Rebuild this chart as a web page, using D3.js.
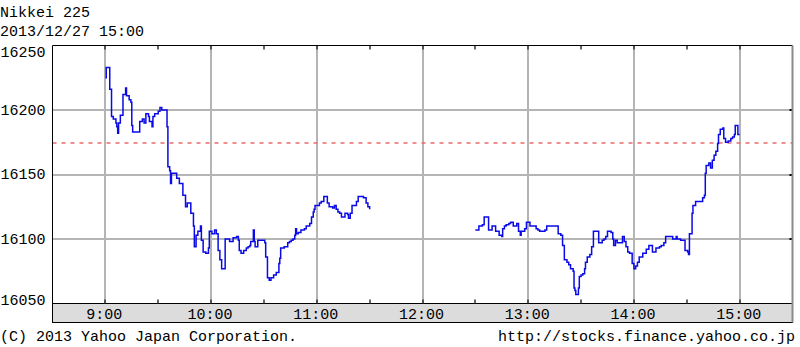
<!DOCTYPE html>
<html>
<head>
<meta charset="utf-8">
<script src="https://cdn.jsdelivr.net/npm/d3@7"></script>
<style>
  body { margin: 0; background: #fff; }
  svg text { font-family: "Liberation Mono", "DejaVu Sans Mono", monospace; font-size: 15px; fill: #000; }
</style>
</head>
<body>
<div id="chart"></div>
<script>
const title = "Nikkei 225";
const stamp = "2013/12/27 15:00";
const copyright = "(C) 2013 Yahoo Japan Corporation.";
const source = "http://stocks.finance.yahoo.co.jp";
const prevClose = 16174.44;
const yTicks = [16050, 16100, 16150, 16200, 16250];
const hourTicks = ["09:00", "10:00", "11:00", "12:00", "13:00", "14:00", "15:00"];
const halfTicks = ["09:30", "10:30", "11:30", "12:30", "13:30", "14:30"];

// morning session
const amTimes = [
  "09:00:00", "09:00:30", "09:02:30", "09:03:30", "09:04:30", "09:06:00", "09:06:30", "09:07:00",
  "09:07:30", "09:08:30", "09:10:00", "09:11:30", "09:12:00", "09:13:30", "09:14:30", "09:15:00",
  "09:15:30", "09:19:30", "09:21:00", "09:22:00", "09:23:00", "09:24:30", "09:25:00", "09:26:30",
  "09:27:00", "09:28:00", "09:30:00", "09:31:00", "09:32:00", "09:35:00", "09:35:30", "09:36:30",
  "09:37:00", "09:37:30", "09:40:30", "09:42:00", "09:44:00", "09:45:30", "09:46:30", "09:48:30",
  "09:50:00", "09:50:30", "09:51:30", "09:52:30", "09:54:00", "09:54:30", "09:55:30", "09:57:00",
  "09:58:30", "09:59:00", "10:00:30", "10:02:00", "10:03:00", "10:04:00", "10:05:00", "10:06:00",
  "10:08:00", "10:10:30", "10:12:30", "10:14:30", "10:15:30", "10:16:00", "10:17:00", "10:18:30",
  "10:20:00", "10:21:00", "10:22:00", "10:22:30", "10:24:00", "10:24:30", "10:25:00", "10:26:30",
  "10:30:30", "10:31:00", "10:32:00", "10:33:00", "10:34:00", "10:35:30", "10:37:00", "10:38:30",
  "10:39:00", "10:39:30", "10:41:30", "10:43:30", "10:44:30", "10:45:30", "10:46:30", "10:47:30",
  "10:48:00", "10:48:30", "10:49:30", "10:51:00", "10:53:00", "10:54:00", "10:56:00", "10:57:00",
  "10:58:00", "10:58:30", "10:59:00", "11:01:30", "11:02:30", "11:04:00", "11:06:00", "11:07:00",
  "11:09:00", "11:10:00", "11:11:00", "11:12:00", "11:13:00", "11:14:00", "11:16:00", "11:17:30",
  "11:18:00", "11:19:00", "11:20:00", "11:22:30", "11:23:30", "11:26:30", "11:28:00", "11:29:00",
  "11:30:00"
];
const amValues = [
  16225, 16233, 16216, 16195, 16193, 16190, 16187, 16182,
  16190, 16196, 16212, 16217, 16211, 16208, 16206, 16188,
  16183, 16191, 16193, 16190, 16197, 16195, 16191, 16187,
  16195, 16197, 16199, 16202, 16200, 16187, 16156, 16153,
  16143, 16151, 16147, 16143, 16134, 16125, 16128, 16120,
  16110, 16094, 16103, 16106, 16110, 16099, 16090, 16089,
  16093, 16106, 16104, 16107, 16104, 16091, 16084, 16077,
  16100, 16098, 16101, 16102, 16099, 16091, 16089, 16091,
  16093, 16094, 16095, 16098, 16107, 16098, 16094, 16099,
  16097, 16086, 16070, 16068, 16070, 16072, 16074, 16081,
  16085, 16093, 16094, 16097, 16098, 16099, 16100, 16103,
  16108, 16104, 16105, 16107, 16108, 16110, 16112, 16117,
  16121, 16123, 16126, 16128, 16129, 16133, 16128, 16125,
  16124, 16126, 16123, 16121, 16120, 16117, 16120, 16119,
  16116, 16120, 16126, 16129, 16133, 16132, 16128, 16125,
  16123
];

// afternoon session
const pmTimes = [
  "12:30:00", "12:32:00", "12:34:00", "12:35:00", "12:37:30", "12:39:30", "12:41:30", "12:43:30",
  "12:45:00", "12:45:30", "12:46:30", "12:47:30", "12:49:00", "12:50:00", "12:51:30", "12:53:30",
  "12:54:30", "12:55:30", "12:56:00", "12:58:00", "12:59:00", "13:01:00", "13:04:30", "13:05:30",
  "13:06:30", "13:09:30", "13:10:30", "13:17:00", "13:18:30", "13:19:30", "13:20:30", "13:22:00",
  "13:23:00", "13:24:00", "13:25:30", "13:26:00", "13:26:30", "13:27:00", "13:28:30", "13:29:00",
  "13:30:00", "13:31:00", "13:32:00", "13:32:30", "13:33:30", "13:35:00", "13:36:00", "13:37:00",
  "13:40:00", "13:42:00", "13:43:00", "13:44:00", "13:45:00", "13:47:00", "13:48:00", "13:48:30",
  "13:49:30", "13:50:30", "13:53:30", "13:54:30", "13:55:30", "13:56:30", "13:57:30", "13:59:00",
  "14:00:00", "14:01:00", "14:02:00", "14:03:00", "14:05:00", "14:07:00", "14:08:30", "14:10:30",
  "14:12:30", "14:14:30", "14:15:30", "14:17:00", "14:18:00", "14:22:00", "14:24:00", "14:24:30",
  "14:26:30", "14:29:00", "14:30:30", "14:31:00", "14:31:30", "14:33:00", "14:33:30", "14:35:00",
  "14:39:00", "14:40:00", "14:40:30", "14:41:00", "14:42:30", "14:43:30", "14:44:30", "14:45:30",
  "14:46:30", "14:47:30", "14:48:00", "14:49:00", "14:50:30", "14:51:00", "14:52:00", "14:53:30",
  "14:55:00", "14:56:00", "14:57:00", "14:57:30", "14:59:00", "15:00:00"
];
const pmValues = [
  16107, 16110, 16111, 16117, 16107, 16110, 16106, 16103,
  16102, 16108, 16110, 16111, 16112, 16113, 16110, 16112,
  16106, 16103, 16106, 16108, 16113, 16110, 16108, 16107,
  16106, 16107, 16110, 16104, 16103, 16095, 16084, 16082,
  16080, 16077, 16075, 16062, 16060, 16057, 16062, 16071,
  16072, 16073, 16077, 16082, 16086, 16088, 16094, 16106,
  16097, 16099, 16100, 16102, 16106, 16105, 16100, 16095,
  16099, 16097, 16102, 16098, 16094, 16090, 16089, 16081,
  16077, 16079, 16082, 16086, 16089, 16092, 16095, 16090,
  16093, 16094, 16095, 16097, 16102, 16100, 16102, 16100,
  16099, 16091, 16090, 16088, 16104, 16120, 16126, 16129,
  16132, 16134, 16151, 16157, 16159, 16155, 16161, 16165,
  16168, 16174, 16181, 16185, 16186, 16178, 16175, 16176,
  16178, 16179, 16181, 16188, 16181, 16181
];

const w = 800;
const h = 347;
const pLeft = 52.5, pRight = 792.5, pTop = 45.5, pBottom = 303.5, pBand = 322.5;

const parse = d3.timeParse("%H:%M");
const parseSec = d3.timeParse("%H:%M:%S");

const am = amTimes.map((t, i) => [parseSec(t), amValues[i]]);
const pm = pmTimes.map((t, i) => [parseSec(t), pmValues[i]]);

const xScale = d3.scaleTime()
  .domain([parse("08:30"), parse("15:30")])
  .range([pLeft, pRight]);

const yScale = d3.scaleLinear()
  .domain([16050, 16250])
  .range([pBottom, pTop]);

const svg = d3.select("#chart")
  .append("svg")
  .attr("width", w)
  .attr("height", h);

// header
svg.append("text").attr("x", 0).attr("y", 17).text(title);
svg.append("text").attr("x", 0).attr("y", 36).text(stamp);

// horizontal grid
svg.append("g")
  .selectAll("line")
  .data(yTicks.slice(1, -1))
  .enter()
  .append("line")
  .attr("x1", pLeft)
  .attr("x2", pRight)
  .attr("y1", (d) => Math.round(yScale(d)))
  .attr("y2", (d) => Math.round(yScale(d)))
  .attr("stroke", "#b4b4b4")
  .attr("stroke-width", 2);

// vertical grid
svg.append("g")
  .selectAll("line")
  .data(hourTicks.map(parse))
  .enter()
  .append("line")
  .attr("x1", (d) => Math.round(xScale(d)))
  .attr("x2", (d) => Math.round(xScale(d)))
  .attr("y1", pTop)
  .attr("y2", pBottom)
  .attr("stroke", "#b4b4b4")
  .attr("stroke-width", 2);

// previous close
svg.append("line")
  .attr("x1", pLeft)
  .attr("x2", pRight)
  .attr("y1", yScale(prevClose))
  .attr("y2", yScale(prevClose))
  .attr("stroke", "#f06a6a")
  .attr("stroke-width", 1.5)
  .attr("stroke-dasharray", "4,5");

// price line
const line = d3.line()
  .x((d) => xScale(d[0]))
  .y((d) => yScale(d[1]))
  .curve(d3.curveStepAfter);

[am, pm].forEach((s) => {
  svg.append("path")
    .datum(s)
    .attr("d", line)
    .attr("fill", "none")
    .attr("stroke", "#0a0ae6")
    .attr("stroke-width", 1.5);
});

// x axis band
svg.append("rect")
  .attr("x", pLeft)
  .attr("y", pBottom)
  .attr("width", pRight - pLeft)
  .attr("height", pBand - pBottom)
  .attr("fill", "#dcdcdc")
  .attr("stroke", "#000")
  .attr("stroke-width", 1);

const xAxis = d3.axisBottom(xScale)
  .tickValues(hourTicks.map(parse))
  .tickFormat(d3.timeFormat("%-H:%M"))
  .tickSize(0)
  .tickPadding(5);

svg.append("g")
  .attr("id", "x-axis")
  .attr("transform", "translate(-1.5," + pBottom + ")")
  .call(xAxis)
  .call((g) => g.select(".domain").remove())
  .selectAll("text")
  .attr("font-size", null)
  .attr("font-family", null);

// tick marks at top and bottom
const allTicks = hourTicks.concat(halfTicks).map(parse);
["top", "bottom"].forEach((side) => {
  svg.append("g")
    .selectAll("line")
    .data(allTicks)
    .enter()
    .append("line")
    .attr("x1", (d) => Math.round(xScale(d)))
    .attr("x2", (d) => Math.round(xScale(d)))
    .attr("y1", side === "top" ? pTop : pBottom)
    .attr("y2", side === "top" ? pTop + 4 : pBottom - 4)
    .attr("stroke", "#333")
    .attr("stroke-width", 1.5);
});

// right edge ticks
svg.append("g")
  .selectAll("line")
  .data(yTicks.slice(1, -1))
  .enter()
  .append("line")
  .attr("x1", pRight - 3)
  .attr("x2", pRight)
  .attr("y1", (d) => Math.round(yScale(d)))
  .attr("y2", (d) => Math.round(yScale(d)))
  .attr("stroke", "#000")
  .attr("stroke-width", 2);

// frame
svg.append("line")
  .attr("x1", pLeft).attr("x2", pLeft)
  .attr("y1", pTop).attr("y2", pBand)
  .attr("stroke", "#000").attr("stroke-width", 1);
svg.append("line")
  .attr("x1", pLeft).attr("x2", pRight)
  .attr("y1", pTop).attr("y2", pTop)
  .attr("stroke", "#000").attr("stroke-width", 1);
svg.append("line")
  .attr("x1", pRight).attr("x2", pRight)
  .attr("y1", pTop).attr("y2", pBand)
  .attr("stroke", "#8a8a8a").attr("stroke-width", 2);

// y labels
const yAxis = d3.axisLeft(yScale)
  .tickValues(yTicks)
  .tickFormat(d3.format("d"))
  .tickSize(0)
  .tickPadding(7);

svg.append("g")
  .attr("id", "y-axis")
  .attr("transform", "translate(" + pLeft + ",0)")
  .call(yAxis)
  .call((g) => g.select(".domain").remove())
  .selectAll(".tick")
  .attr("transform", (d) => "translate(0," + Math.min(Math.max(yScale(d), 52), 300) + ")")
  .select("text")
  .attr("font-size", null)
  .attr("font-family", null);

// footer
svg.append("text").attr("x", 0).attr("y", 341).text(copyright);
svg.append("text").attr("x", 795).attr("y", 341).attr("text-anchor", "end").text(source);
</script>
</body>
</html>
